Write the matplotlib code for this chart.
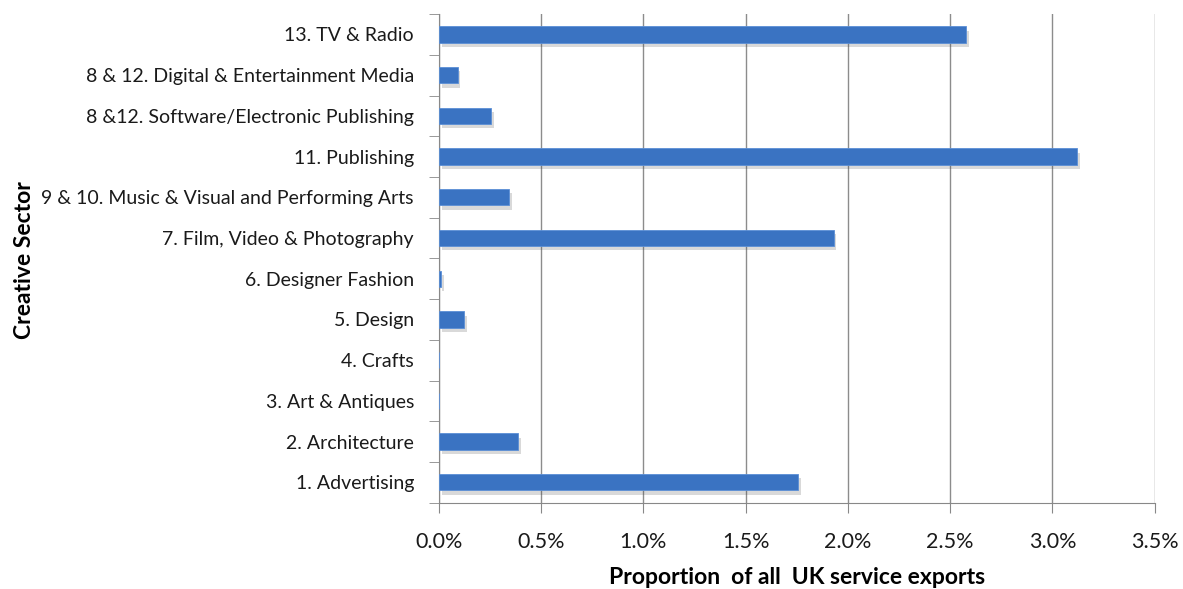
import matplotlib.pyplot as plt
import matplotlib.patheffects as pe
from matplotlib.ticker import FuncFormatter

sectors = [
    "1. Advertising",
    "2. Architecture",
    "3. Art & Antiques",
    "4. Crafts",
    "5. Design",
    "6. Designer Fashion",
    "7. Film, Video & Photography",
    "9 & 10. Music & Visual and Performing Arts",
    "11. Publishing",
    "8 &12. Software/Electronic Publishing",
    "8 & 12. Digital & Entertainment Media",
    "13. TV & Radio",
]
share = [1.756, 0.386, 0.0, 0.0, 0.124, 0.011, 1.93, 0.342, 3.12, 0.254, 0.091, 2.58]
xticks = [0.0, 0.5, 1.0, 1.5, 2.0, 2.5, 3.0, 3.5]

plt.rcParams['font.family'] = ['Lato', 'DejaVu Sans']

fig = plt.figure(figsize=(11.83, 5.89), dpi=100)
ax = fig.add_axes([0.371, 0.1465, 0.605, 0.8295])

pos = list(range(len(sectors)))
bars = ax.barh(pos, share, height=0.4, color='#3A73C2', edgecolor='#5B8FD6',
               linewidth=0.6, zorder=3)
for b in bars:
    b.set_path_effects([pe.SimplePatchShadow(offset=(2, -3), alpha=0.2, shadow_rgbFace='#444444'),
                        pe.Normal()])

ax.set_xlim(0, 3.5)
ax.set_ylim(-0.5, len(sectors) - 0.5)
ax.set_xticks(xticks)
ax.xaxis.set_major_formatter(FuncFormatter(lambda v, p: f"{v:.1f}%"))
ax.set_yticks(pos)
ax.set_yticklabels(sectors, fontsize=14, color='#1a1a1a')
ax.set_yticks([p - 0.5 for p in pos] + [len(sectors) - 0.5], minor=True)
ax.tick_params(axis='y', which='major', length=0, pad=18)
ax.tick_params(axis='y', which='minor', length=7, color='#888888')
ax.tick_params(axis='x', length=7, color='#888888', labelsize=15.5, pad=14, labelcolor='#1a1a1a')

ax.grid(axis='x', color='#8c8c8c', linewidth=1, zorder=0)
for s in ['top', 'right']:
    ax.spines[s].set_visible(False)
ax.spines['left'].set_color('#888888')
ax.spines['bottom'].set_color('#888888')

ax.set_xlabel('Proportion  of all  UK service exports', fontsize=16.5, fontweight='bold', labelpad=11)
fig.text(0.021, 0.558, 'Creative Sector', rotation=90, fontsize=16.5, fontweight='bold',
         ha='center', va='center')

fig.savefig('out.png', dpi=100)
